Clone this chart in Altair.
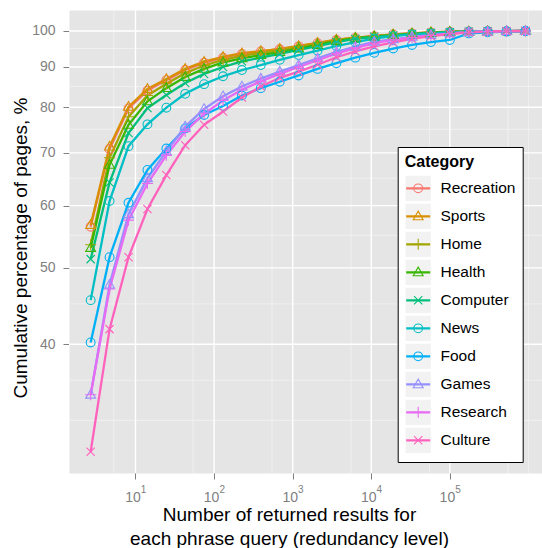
import altair as alt
import pandas as pd

# ---------------- data ----------------
categories = ["Recreation", "Sports", "Home", "Health", "Computer",
              "News", "Food", "Games", "Research", "Culture"]
series_colors = ["#F8766D", "#D89000", "#A3A500", "#39B600", "#00BF7D",
                 "#00BFC4", "#00B0F6", "#9590FF", "#E76BF3", "#FF62BC"]
series_shapes = ["circle", "triangle", "plus", "triangle", "cross",
                 "circle", "circle", "triangle", "plus", "cross"]

x_values = [2.69, 4.68, 8.15, 14.2, 24.7, 42.9, 74.6, 130, 226, 393, 684, 1190,
            2070, 3600, 6270, 10900, 19000, 33000, 57400, 99900, 174000,
            302000, 526000, 915000]

recreation = [56.4, 70.8, 79.7, 84.0, 86.6, 89.2, 91.1, 92.5, 93.5, 94.2, 94.8, 95.6,
              96.5, 97.4, 98.0, 98.5, 99.0, 99.3, 99.6, 99.8, 99.85, 99.9, 99.95, 100]
sports = [56.7, 71.3, 80.1, 84.4, 86.9, 89.5, 91.4, 92.7, 93.7, 94.3, 94.9, 95.7,
          96.6, 97.5, 98.1, 98.5, 99.0, 99.3, 99.6, 99.8, 99.85, 99.9, 99.95, 100]
home = [53.5, 69.0, 77.8, 82.8, 85.7, 88.4, 90.4, 91.9, 93.0, 93.8, 94.5, 95.4,
        96.3, 97.3, 98.0, 98.4, 98.9, 99.2, 99.5, 99.7, 99.8, 99.9, 99.95, 100]
health = [53.0, 67.6, 76.0, 81.4, 84.6, 87.4, 89.5, 91.2, 92.3, 93.2, 94.0, 95.0,
          96.0, 97.1, 97.9, 98.4, 98.8, 99.2, 99.5, 99.7, 99.8, 99.9, 99.95, 100]
computer = [51.3, 64.2, 74.2, 79.8, 82.9, 85.9, 88.2, 90.0, 91.5, 92.5, 93.5, 94.6,
            95.7, 96.8, 97.7, 98.3, 98.7, 99.1, 99.4, 99.65, 99.8, 99.9, 99.95, 100]
news = [45.5, 60.8, 71.4, 76.1, 79.9, 83.2, 85.6, 87.6, 89.2, 90.5, 91.9, 93.2,
        94.4, 95.7, 96.8, 97.8, 98.5, 99.0, 99.3, 99.6, 99.8, 99.9, 99.95, 100]
food = [40.2, 51.6, 60.5, 66.6, 70.9, 75.2, 78.2, 80.3, 82.8, 84.6, 86.2, 87.8,
        89.5, 91.0, 92.5, 93.8, 95.0, 96.0, 96.8, 97.4, 99.3, 99.6, 99.8, 100]
games = [34.5, 47.6, 58.5, 65.0, 70.3, 75.6, 79.6, 82.6, 85.0, 87.0, 88.8, 90.5,
         92.3, 94.1, 95.5, 96.9, 97.6, 98.3, 98.8, 99.3, 99.7, 99.85, 99.95, 100]
research = [34.5, 47.0, 57.5, 64.0, 69.5, 74.5, 78.5, 81.6, 84.2, 86.3, 88.2, 90.0,
            91.8, 93.6, 95.1, 96.5, 97.4, 98.1, 98.7, 99.2, 99.65, 99.85, 99.95, 100]
culture = [29.2, 41.8, 51.6, 59.4, 65.6, 71.6, 76.0, 79.0, 82.3, 85.0, 87.2, 88.8,
           90.6, 92.6, 94.2, 95.6, 96.7, 97.7, 98.5, 99.1, 99.6, 99.8, 99.95, 100]

x_tick_values = [10, 100, 1000, 10000, 100000]
x_tick_base = "10"
x_tick_exponents = ["1", "2", "3", "4", "5"]
y_tick_values = [40, 50, 60, 70, 80, 90, 100]
x_minor_values = [5.3, 54, 545, 5500, 55000, 550000, 1000000]
y_minor_values = [32, 36, 45, 55, 65, 75, 85, 95]

x_title = ["Number of returned results for", "each phrase query (redundancy level)"]
y_title = "Cumulative percentage of pages, %"
legend_title = "Category"

series = dict(zip(categories, [recreation, sports, home, health, computer,
                               news, food, games, research, culture]))

rows = []
for cat in categories:
    for xv, yv in zip(x_values, series[cat]):
        rows.append({"category": cat, "x": xv, "y": yv})
df = pd.DataFrame(rows)

# ---------------- styling ----------------
FONT = "Liberation Sans"
GREY = "#7F7F7F"
SHAPE_PATHS = {
    "circle": "M0.8,0A0.8,0.8 0 1,1 -0.8,0A0.8,0.8 0 1,1 0.8,0Z",
    "triangle": "M0,-0.95L0.9,0.62L-0.9,0.62Z",
    "plus": "M-1,0L1,0M0,-1L0,1",
    "cross": "M-0.75,-0.75L0.75,0.75M-0.75,0.75L0.75,-0.75",
}
shape_range = [SHAPE_PATHS[s] for s in series_shapes]

x_scale = alt.Scale(type="log", domain=[1.426, 1.486e6], nice=False)
y_scale = alt.Scale(type="log", domain=[27.44, 106.33], nice=False)

x_axis = alt.Axis(
    orient="bottom",
    values=x_tick_values, labelExpr=f"'{x_tick_base}'", grid=False, domain=False,
    tickSize=6, tickColor=GREY, tickWidth=1, labelColor=GREY, labelFont=FONT,
    labelFontSize=14, labelPadding=11, labelFlush=False, labelOverlap=False,
    labelOffset=-3,
    title=x_title, titleFont=FONT, titleFontSize=19, titleFontWeight="normal",
    titleColor="black", titleX=220, titleY=47, titleAlign="center",
    titleBaseline="alphabetic", titleLineHeight=24, titleAnchor="start",
)
y_axis = alt.Axis(
    orient="left",
    values=y_tick_values, format="d", grid=False, domain=False,
    tickSize=6, tickColor=GREY, tickWidth=1, labelColor=GREY, labelFont=FONT,
    labelFontSize=14, labelPadding=8, labelFlush=False, labelOverlap=False,
    title=y_title, titleFont=FONT, titleFontSize=19, titleFontWeight="normal",
    titleColor="black", titleX=-49, titleY=237.5, titleAngle=270,
    titleAlign="center", titleBaseline="middle", titleAnchor="start",
)

LEG_X, LEG_Y = 328.7, 137
TITLE_SIZE, TITLE_PAD = 16, 4.5
legend_common = dict(
    orient="none", legendX=LEG_X, padding=7,
    labelFont=FONT, labelFontSize=15.5, labelColor="black",
    clipHeight=27.7, rowPadding=0, labelOffset=9.3,
)
# overlay legends (line strokes, point shapes) carry no title or labels; they sit
# below the title of the main legend
overlay_legend = dict(title=None, labelExpr="''",
                      legendY=LEG_Y + TITLE_SIZE + TITLE_PAD, **legend_common)

# ---------------- grid layers ----------------
xminor = alt.Chart(pd.DataFrame({"v": x_minor_values})).mark_rule(
    color="#F2F2F2", strokeWidth=0.8
).encode(x=alt.X("v:Q", scale=x_scale, axis=x_axis))
yminor = alt.Chart(pd.DataFrame({"v": y_minor_values})).mark_rule(
    color="#F2F2F2", strokeWidth=0.8
).encode(y=alt.Y("v:Q", scale=y_scale, axis=y_axis))
xmajor = alt.Chart(pd.DataFrame({"v": x_tick_values})).mark_rule(
    color="white", strokeWidth=1.4
).encode(x=alt.X("v:Q", scale=x_scale, axis=x_axis))
ymajor = alt.Chart(pd.DataFrame({"v": y_tick_values})).mark_rule(
    color="white", strokeWidth=1.4
).encode(y=alt.Y("v:Q", scale=y_scale, axis=y_axis))

# exponents of the x tick labels (10^k)
exponents = alt.Chart(pd.DataFrame({"v": x_tick_values, "e": x_tick_exponents})).mark_text(
    font=FONT, fontSize=10, color=GREY, align="left", baseline="alphabetic", dx=5.3
).encode(
    x=alt.X("v:Q", scale=x_scale, axis=x_axis),
    y=alt.value(483),
    text="e:N",
)

# legend key backgrounds (empty layer, legend only)
keys = alt.Chart(df).transform_filter("false").mark_square(opacity=1).encode(
    x=alt.X("x:Q", scale=x_scale, axis=x_axis),
    y=alt.Y("y:Q", scale=y_scale, axis=y_axis),
    fill=alt.Fill("category:N",
                  scale=alt.Scale(domain=categories, range=["#F2F2F2"] * len(categories)),
                  legend=alt.Legend(title=legend_title, titleFont=FONT,
                                    titleFontSize=TITLE_SIZE, titleFontWeight="bold",
                                    titleColor="black", titlePadding=TITLE_PAD,
                                    titleAnchor="start", legendY=LEG_Y,
                                    symbolType="square", symbolSize=640,
                                    symbolStrokeWidth=0, symbolOffset=0.5,
                                    symbolOpacity=1,
                                    fillColor="white", strokeColor="black",
                                    **legend_common)),
)

lines = alt.Chart(df).mark_line(strokeWidth=2.3).encode(
    x=alt.X("x:Q", scale=x_scale, axis=x_axis),
    y=alt.Y("y:Q", scale=y_scale, axis=y_axis),
    color=alt.Color("category:N",
                    scale=alt.Scale(domain=categories, range=series_colors),
                    legend=alt.Legend(symbolType="stroke", symbolSize=576,
                                      symbolStrokeWidth=2.3, symbolOffset=0,
                                      **overlay_legend)),
    detail="category:N",
)

pt_legend = alt.Legend(symbolSize=121, symbolStrokeWidth=1.1, symbolOffset=5.75,
                       symbolFillColor="transparent", **overlay_legend)
points = alt.Chart(df).mark_point(filled=False, size=121, strokeWidth=1.1, opacity=1).encode(
    x=alt.X("x:Q", scale=x_scale, axis=x_axis),
    y=alt.Y("y:Q", scale=y_scale, axis=y_axis),
    color=alt.Color("category:N",
                    scale=alt.Scale(domain=categories, range=series_colors),
                    legend=pt_legend),
    shape=alt.Shape("category:N",
                    scale=alt.Scale(domain=categories, range=shape_range),
                    legend=pt_legend),
)

chart = alt.layer(xminor, yminor, xmajor, ymajor, exponents, keys, lines, points).resolve_scale(
    color="independent", fill="independent", shape="independent"
).resolve_legend(
    color="independent", fill="independent", shape="independent"
).properties(
    width=473, height=463,
    padding={"left": 69, "top": 10, "right": 0, "bottom": 75},
    autosize=alt.AutoSizeParams(type="none"),
    background="white",
).configure_view(fill="#E5E5E5", stroke="transparent")

chart.save("out.html", embed_options={"renderer": "svg", "actions": False})
